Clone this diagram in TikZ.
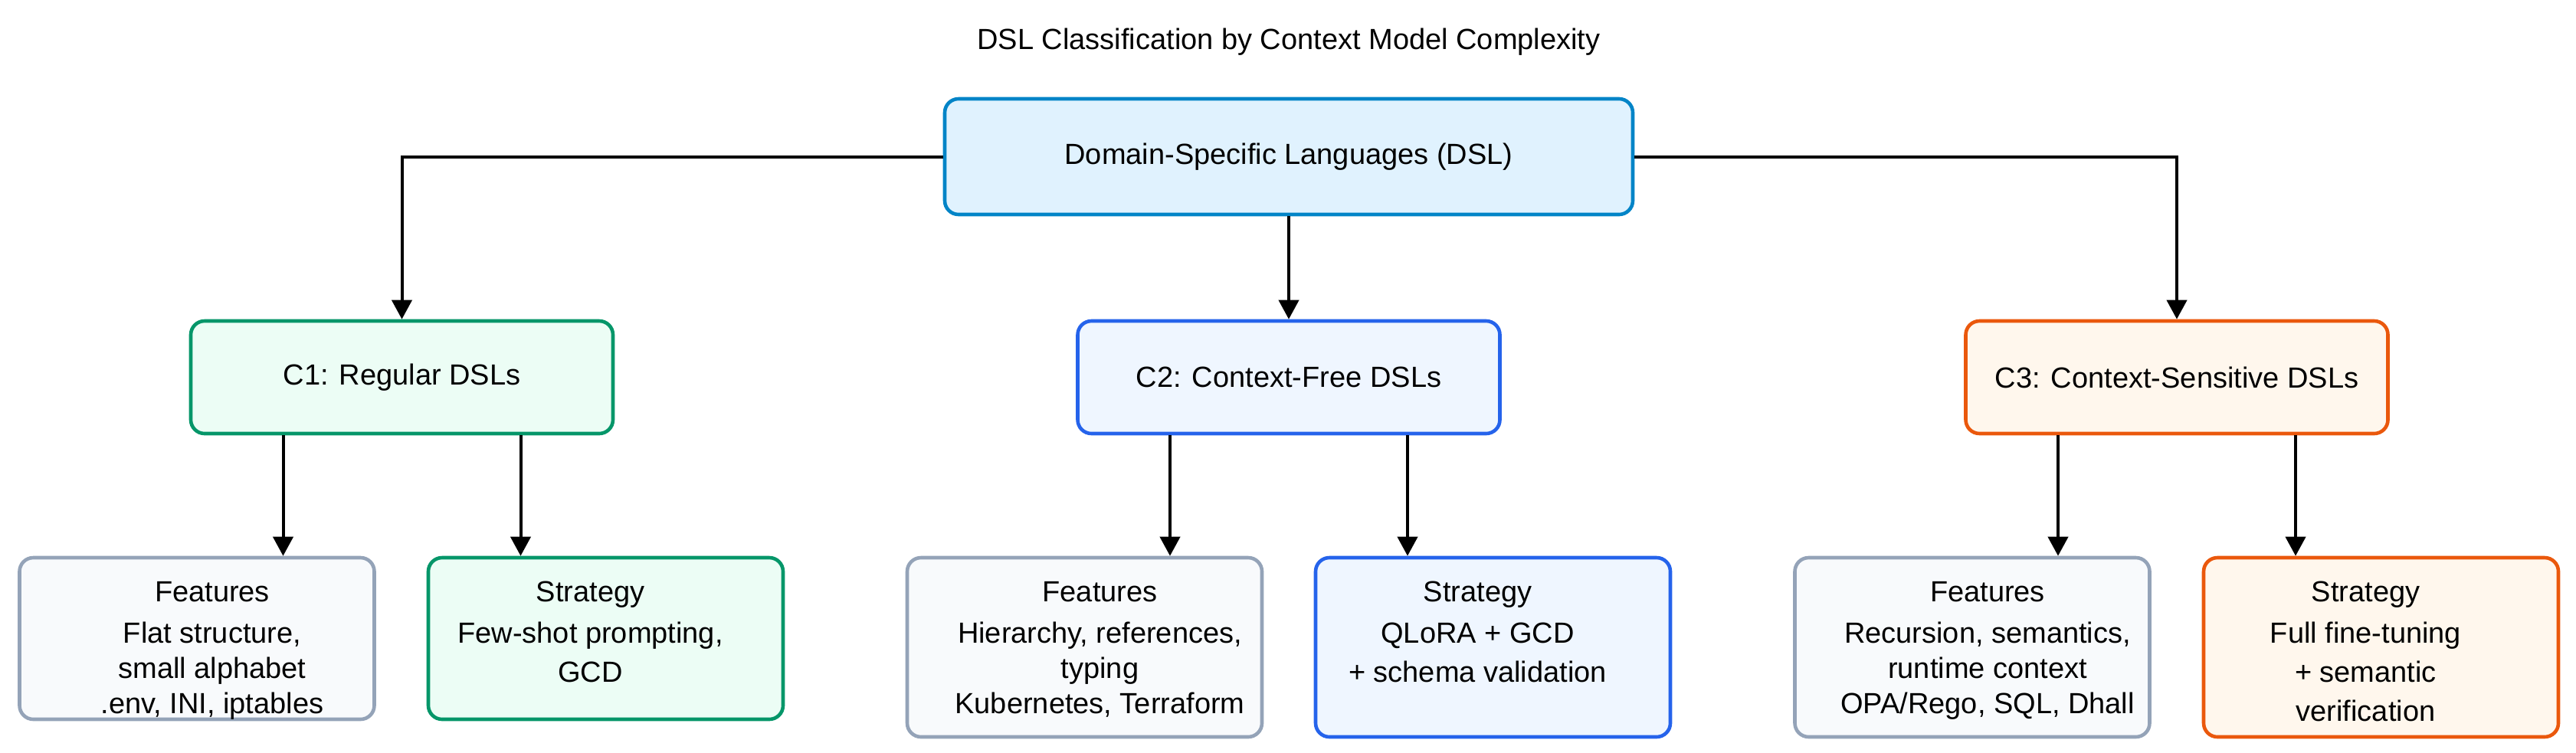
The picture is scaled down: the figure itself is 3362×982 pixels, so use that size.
\documentclass[tikz,border=0pt]{standalone}
\usepackage{fontspec}
\setmainfont{Liberation Sans}
\usepackage{xcolor}
\usepackage{tikz}
\usetikzlibrary{arrows.meta,positioning,calc}
\definecolor{skyline}{HTML}{0284C7}
\definecolor{skyfill}{HTML}{E0F2FE}
\definecolor{greenline}{HTML}{059669}
\definecolor{greenfill}{HTML}{ECFDF5}
\definecolor{blueline}{HTML}{2563EB}
\definecolor{bluefill}{HTML}{EFF6FF}
\definecolor{orangeline}{HTML}{EA580C}
\definecolor{orangefill}{HTML}{FFF7ED}
\definecolor{slateline}{HTML}{94A3B8}
\definecolor{slatefill}{HTML}{F8FAFC}
\tikzset{
  box/.style={draw,line width=2.3pt,rounded corners=9pt,inner sep=0pt},
  cbox/.style={box,minimum width=275.5pt,minimum height=73.5pt},
  leaf/.style={box,minimum width=231.5pt},
  feat/.style={leaf,draw=slateline,fill=slatefill},
  txt/.style={anchor=north,inner sep=0pt,align=center},
  arr/.style={line width=2pt,-{Triangle[width=13pt,length=12.5pt]}}
}
\begin{document}
\begin{tikzpicture}[x=0.5pt,y=-0.5pt,font=\fontsize{19}{23}\selectfont]
\useasboundingbox (0,0) rectangle (3362,982);
\node (title) at (1682,55) {DSL Classification by Context Model Complexity};
\node[box,draw=skyline,fill=skyfill,minimum width=449pt,minimum height=75.5pt] (root) at (1682,204.5) {Domain-Specific Languages (DSL)};
\node[cbox,draw=greenline,fill=greenfill] (c1) at (524.5,492.5) {C1: Regular DSLs};
\node[cbox,draw=blueline,fill=bluefill] (c2) at (1682,492.5) {C2: Context-Free DSLs};
\node[cbox,draw=orangeline,fill=orangefill] (c3) at (2841,492.5) {C3: Context-Sensitive DSLs};
\node[feat,minimum height=105.5pt] (feat1) at (257,833.5) {};
\node[leaf,draw=greenline,fill=greenfill,minimum height=105.5pt] (strat1) at (790.5,833.5) {};
\node[feat,minimum height=117pt] (feat2) at (1415.5,845) {};
\node[leaf,draw=blueline,fill=bluefill,minimum height=117pt] (strat2) at (1948.5,845) {};
\node[feat,minimum height=117pt] (feat3) at (2574,845) {};
\node[leaf,draw=orangeline,fill=orangefill,minimum height=117pt] (strat3) at (3107.5,845) {};
\node[txt] (feat1t) at ([xshift=10pt,yshift=-16.5pt]feat1.north) {Features\\[4pt]Flat structure,\\small alphabet\\.env, INI, iptables};
\node[txt] (feat2t) at ([xshift=10pt,yshift=-16.5pt]feat2.north) {Features\\[4pt]Hierarchy, references,\\typing\\Kubernetes, Terraform};
\node[txt] (feat3t) at ([xshift=10pt,yshift=-16.5pt]feat3.north) {Features\\[4pt]Recursion, semantics,\\runtime context\\OPA/Rego, SQL, Dhall};
\node[txt,font=\fontsize{19}{25.5}\selectfont] (strat1t) at ([xshift=-10pt,yshift=-16.5pt]strat1.north) {Strategy\\[1.5pt]Few-shot prompting,\\GCD};
\node[txt,font=\fontsize{19}{25.5}\selectfont] (strat2t) at ([xshift=-10pt,yshift=-16.5pt]strat2.north) {Strategy\\[1.5pt]QLoRA + GCD\\+ schema validation};
\node[txt,font=\fontsize{19}{25.5}\selectfont] (strat3t) at ([xshift=-10pt,yshift=-16.5pt]strat3.north) {Strategy\\[1.5pt]Full fine-tuning\\+ semantic\\verification};
\draw[arr] (root.south) -- (c2.north);
\draw[arr] (root.west) -| (c1.north);
\draw[arr] (root.east) -| (c3.north);
\foreach \c/\f/\s in {c1/feat1/strat1,c2/feat2/strat2,c3/feat3/strat3}{
  \draw[arr] ([xshift=-77.5pt]\c.south) -- ([xshift=-77.5pt]\c.south |- \f.north);
  \draw[arr] ([xshift=77.5pt]\c.south) -- ([xshift=77.5pt]\c.south |- \s.north);
}
\end{tikzpicture}
\end{document}
